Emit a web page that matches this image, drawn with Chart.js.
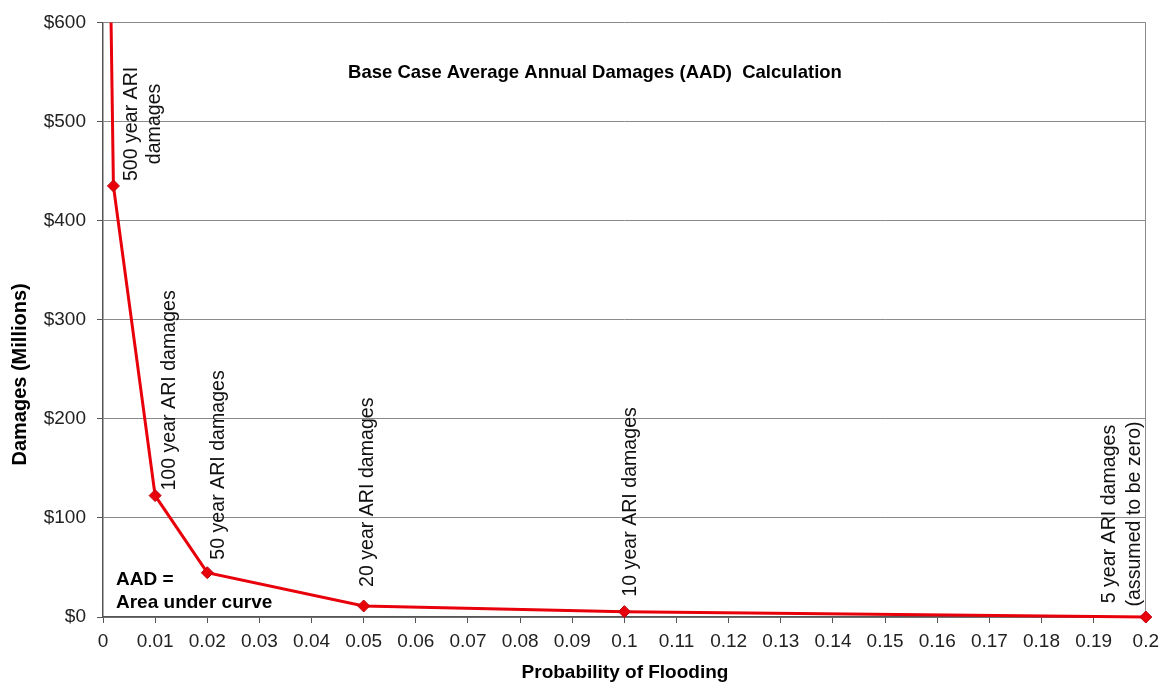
<!DOCTYPE html>
<html><head><meta charset="utf-8">
<script src="https://cdn.jsdelivr.net/npm/chart.js@4/dist/chart.umd.min.js"></script>
<style>html,body{margin:0;padding:0;background:#fff}#wrap{width:1166px;height:686px;position:relative}</style>
</head><body><div id="wrap"><canvas id="c"></canvas></div>
<script>
// ---- data ----
const probabilities = [0.001, 0.002, 0.01, 0.02, 0.05, 0.1, 0.2];
const damages = [800, 435, 122.5, 44.7, 11.1, 5.4, 0];
const pointLabels = [
  null,
  ['500 year ARI', 'damages'],
  ['100 year ARI damages'],
  ['50 year ARI damages'],
  ['20 year ARI damages'],
  ['10 year ARI damages'],
  ['5 year ARI damages', '(assumed to be zero)']
];
const chartTitle = 'Base Case Average Annual Damages (AAD)  Calculation';
const xAxisTitle = 'Probability of Flooding';
const yAxisTitle = 'Damages (Millions)';
const noteLines = ['AAD =', 'Area under curve'];
const yMax = 600, yStep = 100, xMax = 0.2, xStep = 0.01;

// ---- label placement (style) ----
const labelPlacement = [
  null,
  {dx: 18, dy: 62, align: 'center', gap: 23},
  {dx: 14, dy: 5, align: 'left', gap: 0},
  {dx: 11, dy: 13, align: 'left', gap: 0},
  {dx: 4, dy: 19, align: 'left', gap: 0},
  {dx: 6, dy: 15, align: 'left', gap: 0},
  {dx: -36, dy: 103, align: 'center', gap: 25}
];

const FONT = "'Liberation Sans', Arial, sans-serif";

const textPlugin = {
  id: 'texts',
  afterDatasetsDraw(chart) {
    const {ctx, chartArea: ca, scales: {x, y}} = chart;
    ctx.save();
    ctx.fillStyle = '#111';
    // point labels
    ctx.font = '19.6px ' + FONT;
    ctx.textBaseline = 'middle';
    probabilities.forEach((p, i) => {
      const lab = pointLabels[i], pl = labelPlacement[i];
      if (!lab) return;
      const px = x.getPixelForValue(p), py = y.getPixelForValue(damages[i]);
      ctx.save();
      ctx.translate(px + pl.dx, py - pl.dy);
      ctx.rotate(-Math.PI / 2);
      ctx.textAlign = pl.align;
      lab.forEach((t, k) => ctx.fillText(t, 0, k * pl.gap));
      ctx.restore();
    });
    // title
    ctx.font = 'bold 18.5px ' + FONT;
    ctx.textAlign = 'center';
    ctx.fillStyle = '#000';
    ctx.fillText(chartTitle, ca.left + 492, ca.top + 51);
    // note
    ctx.font = 'bold 19px ' + FONT;
    ctx.textAlign = 'left';
    ctx.fillText(noteLines[0], ca.left + 13, ca.bottom - 37);
    ctx.fillText(noteLines[1], ca.left + 13, ca.bottom - 14);
    // axis titles
    ctx.font = 'bold 19px ' + FONT;
    ctx.textAlign = 'center';
    ctx.fillText(xAxisTitle, ca.left + 522, ca.bottom + 56);
    ctx.save();
    ctx.font = 'bold 20px ' + FONT;
    ctx.translate(ca.left - 83, ca.top + 352);
    ctx.rotate(-Math.PI / 2);
    ctx.fillText(yAxisTitle, 0, 0);
    ctx.restore();
    ctx.restore();
  }
};

new Chart(document.getElementById('c'), {
  type: 'line',
  data: {
    datasets: [{
      data: probabilities.map((p, i) => ({x: p, y: damages[i]})),
      borderColor: '#e8000b',
      borderWidth: 3,
      pointStyle: 'rectRot',
      pointRadius: probabilities.map((p, i) => pointLabels[i] ? 6 : 0),
      pointBackgroundColor: '#e8000b',
      pointBorderColor: '#c0000a',
      pointBorderWidth: 1,
      tension: 0,
      clip: {left: 5, top: 0, right: 12, bottom: 12}
    }]
  },
  options: {
    responsive: true,
    maintainAspectRatio: false,
    animation: false,
    events: [],
    layout: {padding: {top: 21, right: 20, left: 0, bottom: 0}},
    plugins: {legend: {display: false}, tooltip: {enabled: false}, title: {display: false}},
    scales: {
      x: {
        type: 'linear', min: 0, max: xMax,
        afterFit: s => { s.height = 69; },
        ticks: {stepSize: xStep, color: '#222', padding: 7,
          font: {family: FONT, size: 19},
          maxRotation: 0, autoSkip: false,
          callback: v => String(+(+v).toFixed(2))},
        grid: {
          drawOnChartArea: true,
          color: c => (c.tick && Math.abs(c.tick.value - xMax) < 1e-9) ? '#8a8a8a' : 'rgba(0,0,0,0)',
          tickColor: '#555', tickLength: 6, lineWidth: 1
        },
        border: {color: '#555', width: 1.5}
      },
      y: {
        type: 'linear', min: 0, max: yMax,
        afterFit: s => { s.width = 103; },
        ticks: {stepSize: yStep, color: '#222', padding: 11,
          font: {family: FONT, size: 19},
          callback: v => '$' + v},
        grid: {color: '#8a8a8a', tickColor: '#555', tickLength: 6, lineWidth: 1},
        border: {color: '#555', width: 1.5}
      }
    }
  },
  plugins: [textPlugin]
});
</script>
</body></html>
